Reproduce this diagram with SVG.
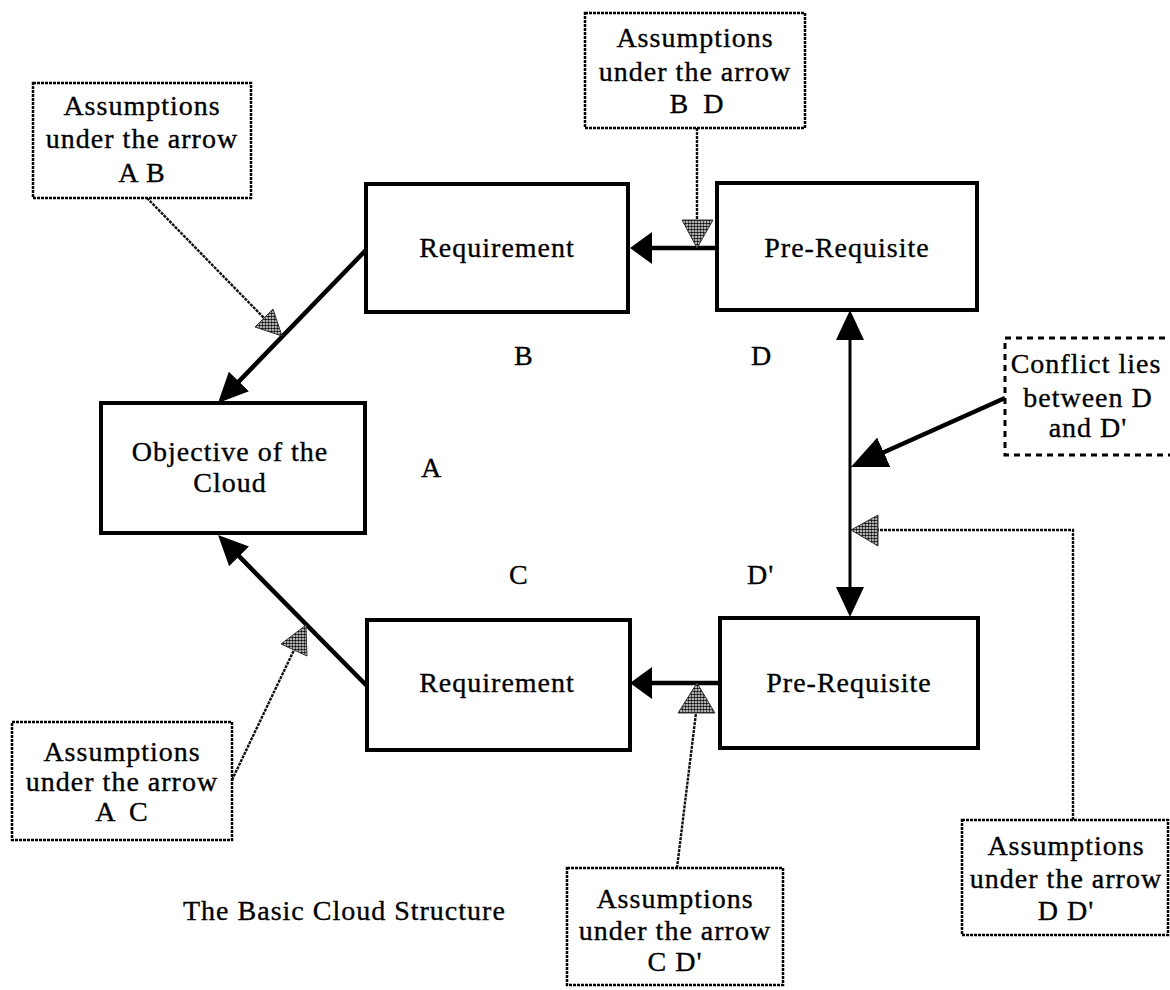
<svg xmlns="http://www.w3.org/2000/svg" width="1170" height="990" viewBox="0 0 1170 990">
  <style>
    text { font-family: "Liberation Serif", "Times New Roman", serif; font-size: 28px; fill: #000; stroke: #000; stroke-width: 0.35; letter-spacing: 1px; }
    .mid { text-anchor: middle; }
    .box { fill: #fff; stroke: #000; stroke-width: 4; }
    .note { fill: #fff; stroke: #000; stroke-width: 2.5; stroke-dasharray: 3 1; }
    .conflict { fill: #fff; stroke: #000; stroke-width: 3; stroke-dasharray: 6 5; }
    .link { fill: none; stroke: #000; stroke-width: 4.5; }
    .thin { fill: none; stroke: #000; stroke-width: 3; }
    .feed { fill: none; stroke: #111; stroke-width: 2.4; stroke-dasharray: 3 1; }
    .tri { fill: url(#stipple); stroke: #333; stroke-width: 1; }
  </style>
  <defs>
    <pattern id="stipple" width="3" height="3" patternUnits="userSpaceOnUse">
      <rect width="3" height="3" fill="#fff"/>
      <circle cx="1.5" cy="1.5" r="1.3" fill="#000"/>
    </pattern>
    <marker id="hd" viewBox="0 0 30 28" refX="3" refY="14" markerWidth="30" markerHeight="28" markerUnits="userSpaceOnUse" orient="auto-start-reverse">
      <path d="M0,0 L30,14 L0,28 z" fill="#000"/>
    </marker>
    <marker id="hs" viewBox="0 0 22 32" refX="3" refY="16" markerWidth="22" markerHeight="32" markerUnits="userSpaceOnUse" orient="auto">
      <path d="M0,0 L22,16 L0,32 z" fill="#000"/>
    </marker>
    <marker id="hc" viewBox="0 0 36 32" refX="3" refY="16" markerWidth="36" markerHeight="32" markerUnits="userSpaceOnUse" orient="auto">
      <path d="M0,0 L36,16 L0,32 z" fill="#000"/>
    </marker>
  </defs>

  <rect width="1170" height="990" fill="#fff"/>

  <!-- connectors -->
  <g id="connectors">
    <line class="link" x1="366" y1="250" x2="236.8" y2="383.6" marker-end="url(#hd)"/>
    <line class="link" x1="367" y1="686" x2="237" y2="554.2" marker-end="url(#hd)"/>
    <line class="link" x1="717" y1="248" x2="649" y2="248" marker-end="url(#hs)"/>
    <line class="link" x1="720" y1="683" x2="649" y2="683" marker-end="url(#hs)"/>
    <line class="thin" x1="850" y1="337" x2="850" y2="590" marker-start="url(#hd)" marker-end="url(#hd)"/>
    <line class="link" x1="1005" y1="398" x2="881" y2="453.5" stroke-width="5" marker-end="url(#hc)"/>

    <!-- assumption feeds -->
    <line class="feed" x1="147" y1="198" x2="264" y2="318"/>
    <polygon class="tri" points="282,336 273,309 255,327"/>
    <line class="feed" x1="697" y1="128" x2="697" y2="220"/>
    <polygon class="tri" points="697,248 682,220 713,220"/>
    <polyline class="feed" points="1073,820 1073,530 878,530"/>
    <polygon class="tri" points="851,530 878,515 878,546"/>
    <line class="feed" x1="677" y1="868" x2="696" y2="713"/>
    <polygon class="tri" points="697,683 678,713 715,713"/>
    <line class="feed" x1="232" y1="780" x2="294" y2="650"/>
    <polygon class="tri" points="306,625 307,656 281,644"/>
  </g>

  <!-- main nodes -->
  <g id="objective">
    <rect class="box" x="101" y="403" width="264" height="130"/>
    <text class="mid" x="230" y="461">Objective of the</text>
    <text class="mid" x="230" y="492">Cloud</text>
  </g>
  <g id="requirement-b">
    <rect class="box" x="366" y="184" width="262" height="128"/>
    <text class="mid" x="497" y="257">Requirement</text>
  </g>
  <g id="prerequisite-d">
    <rect class="box" x="717" y="183" width="260" height="127"/>
    <text class="mid" x="847" y="257">Pre-Requisite</text>
  </g>
  <g id="requirement-c">
    <rect class="box" x="367" y="620" width="263" height="130"/>
    <text class="mid" x="497" y="692">Requirement</text>
  </g>
  <g id="prerequisite-d2">
    <rect class="box" x="720" y="618" width="258" height="130"/>
    <text class="mid" x="849" y="692">Pre-Requisite</text>
  </g>

  <!-- letters -->
  <g id="letters">
    <text x="514" y="365">B</text>
    <text x="751" y="365">D</text>
    <text x="421" y="477">A</text>
    <text x="509" y="584">C</text>
    <text x="747" y="584">D'</text>
  </g>

  <!-- assumption notes -->
  <g id="note-ab">
    <rect class="note" x="33" y="83" width="218" height="115"/>
    <text class="mid" x="142" y="115">Assumptions</text>
    <text class="mid" x="142" y="148">under the arrow</text>
    <text class="mid" x="142" y="182">A B</text>
  </g>
  <g id="note-bd">
    <rect class="note" x="585" y="13" width="220" height="115"/>
    <text class="mid" x="695" y="47">Assumptions</text>
    <text class="mid" x="695" y="81">under the arrow</text>
    <text class="mid" x="697" y="113" word-spacing="6">B D</text>
  </g>
  <g id="note-ac">
    <rect class="note" x="12" y="722" width="220" height="118"/>
    <text class="mid" x="122" y="761">Assumptions</text>
    <text class="mid" x="122" y="791">under the arrow</text>
    <text class="mid" x="122" y="821" word-spacing="6">A C</text>
  </g>
  <g id="note-cd2">
    <rect class="note" x="567" y="868" width="216" height="117"/>
    <text class="mid" x="675" y="908">Assumptions</text>
    <text class="mid" x="675" y="940">under the arrow</text>
    <text class="mid" x="675" y="971">C D'</text>
  </g>
  <g id="note-dd2">
    <rect class="note" x="962" y="820" width="206" height="115"/>
    <text class="mid" x="1066" y="855">Assumptions</text>
    <text class="mid" x="1066" y="888">under the arrow</text>
    <text class="mid" x="1066" y="920">D D'</text>
  </g>
  <g id="note-conflict">
    <rect class="conflict" x="1005" y="338" width="180" height="117"/>
    <text class="mid" x="1086" y="373">Conflict lies</text>
    <text class="mid" x="1088" y="407">between D</text>
    <text class="mid" x="1088" y="437">and D'</text>
  </g>

  <text id="caption" x="183" y="920">The Basic Cloud Structure</text>
</svg>
